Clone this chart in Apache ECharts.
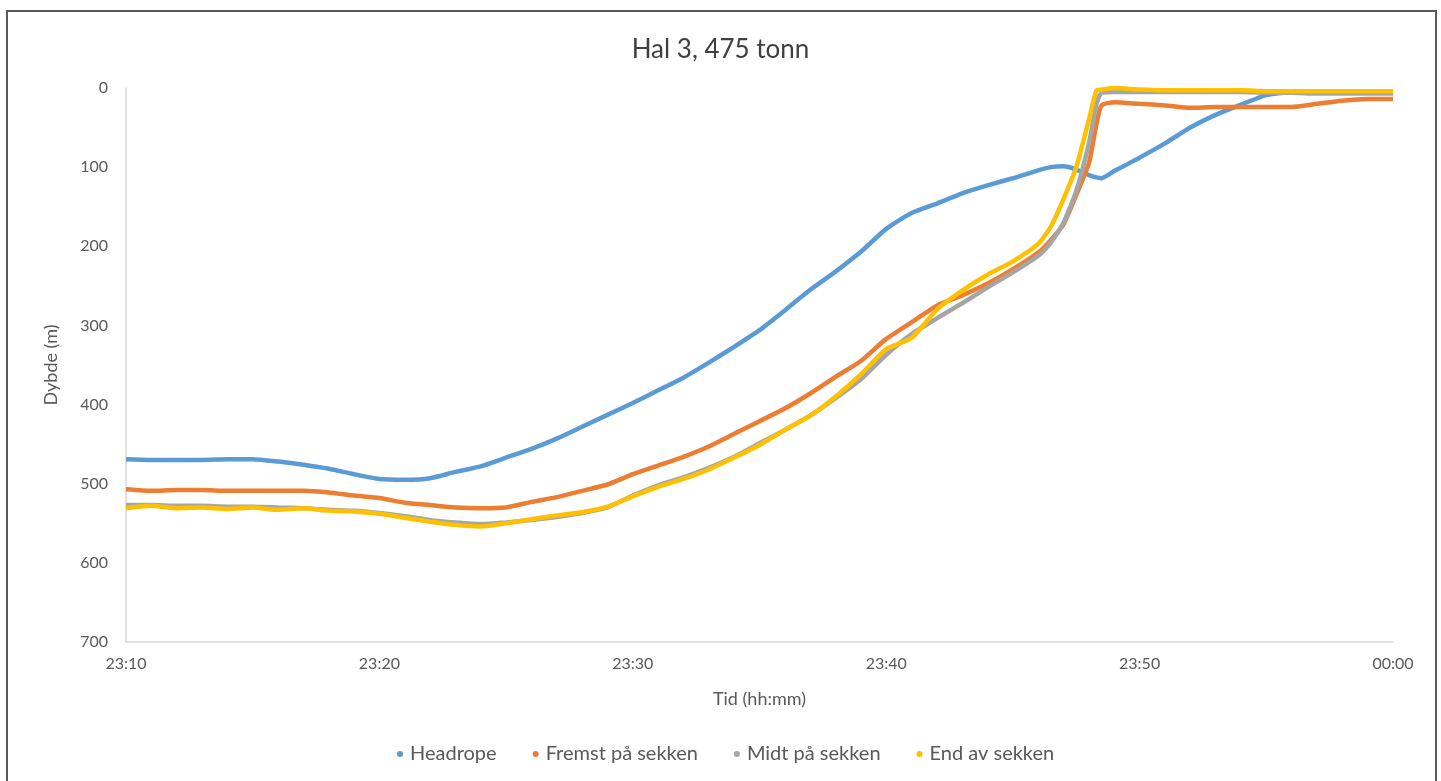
<!DOCTYPE html>
<html>
<head>
<meta charset="utf-8">
<script src="https://cdn.jsdelivr.net/npm/echarts@6/dist/echarts.min.js"></script>
<style>
html,body{margin:0;padding:0;background:#fff;}
#frame{position:absolute;left:6px;top:10px;width:1427px;height:790px;border:2px solid #595959;box-sizing:content-box;}
#chart{position:absolute;left:0;top:0;width:1441px;height:781px;}
</style>
</head>
<body>
<div id="frame"></div>
<div id="chart"></div>
<script>
// Time in minutes after 23:10
const minutes = [0,1,2,3,4,5,6,7,8,9,10,11,12,13,14,15,16,17,18,19,20,21,22,23,24,25,26,27,28,29,30,31,32,33,34,35,36,36.5,37,37.5,38,38.3,38.5,39,40,41,42,43,44,45,46,47,48,49,50];
const xTickLabels = ['23:10','23:20','23:30','23:40','23:50','00:00'];
const seriesNames = ['Headrope','Fremst på sekken','Midt på sekken','End av sekken'];

const headrope = [469,470,470,470,469,469,472,476,481,488,494,495,493,485,478,467,456,443,428,413,398,382,366,347,327,306,281,255,232,207,178,158,146,133,123,114,104,100,99,103,110,113,114,105,88,70,50,34,21,9,5,4,4,4,4];
const fremst   = [507,509,508,508,509,509,509,509,511,515,518,524,527,530,531,530,523,517,509,501,488,477,466,453,437,421,405,386,365,345,317,296,275,262,247,229,208,192,172,135,95,45,22,18,20,22,25,24,24,24,24,20,16,14,14];
const midt     = [527,527,528,528,529,529,530,531,533,534,537,541,546,549,551,549,546,542,537,530,515,502,492,480,466,449,432,414,392,368,337,311,291,272,252,233,212,195,170,130,70,20,6,5,5,5,5,5,5,6,6,7,7,7,7];
const endSekk  = [531,528,531,530,532,530,533,531,534,535,538,543,548,552,554,550,545,540,536,529,516,504,494,482,467,451,432,414,390,362,330,316,280,256,236,219,197,175,140,100,40,3,2,0,2,3,3,3,3,4,4,4,4,4,4];

const colors = ['#5B9BD5','#ED7D31','#A5A5A5','#FFC000'];
const values = [headrope, fremst, midt, endSekk];

const chart = echarts.init(document.getElementById('chart'));
const txt = '#595959';
const font = 'Lato';
chart.setOption({
  animation: false,
  color: colors,
  title: {
    text: 'Hal 3, 475 tonn',
    left: 'center', top: 32,
    textStyle: {fontFamily: font, fontSize: 26, fontWeight: 'normal', color: '#404040'}
  },
  legend: {
    bottom: 12, left: 392,
    icon: 'circle', itemWidth: 10, itemHeight: 6, itemGap: 36,
    textStyle: {fontFamily: font, fontSize: 20, color: txt},
    data: seriesNames
  },
  grid: {left: 126, right: 48, top: 88, bottom: 139},
  xAxis: {
    type: 'value', min: 0, max: 50, interval: 10,
    name: 'Tid (hh:mm)', nameLocation: 'middle', nameGap: 48,
    nameTextStyle: {fontFamily: font, fontSize: 18, color: txt},
    axisLine: {show: true, onZero: false, lineStyle: {color: '#d9d9d9', width: 1.5}},
    axisTick: {show: false},
    splitLine: {show: false},
    axisLabel: {fontFamily: font, fontSize: 16, color: txt, margin: 14,
      formatter: v => xTickLabels[Math.round(v/10)]}
  },
  yAxis: {
    type: 'value', inverse: true, min: 0, max: 700, interval: 100,
    name: 'Dybde (m)', nameLocation: 'middle', nameGap: 66, nameRotate: 90,
    nameTextStyle: {fontFamily: font, fontSize: 18, color: txt},
    axisLine: {show: true, lineStyle: {color: '#d9d9d9', width: 1.5}},
    axisTick: {show: false},
    splitLine: {show: false},
    axisLabel: {fontFamily: font, fontSize: 16, color: txt, margin: 18}
  },
  series: seriesNames.map((n, i) => ({
    name: n, type: 'line', showSymbol: false, symbol: 'circle',
    smooth: 0.2,
    data: minutes.map((m, k) => [m, values[i][k]]),
    lineStyle: {width: 4.5, color: colors[i]},
    itemStyle: {color: colors[i]}
  }))
});
</script>
</body>
</html>
